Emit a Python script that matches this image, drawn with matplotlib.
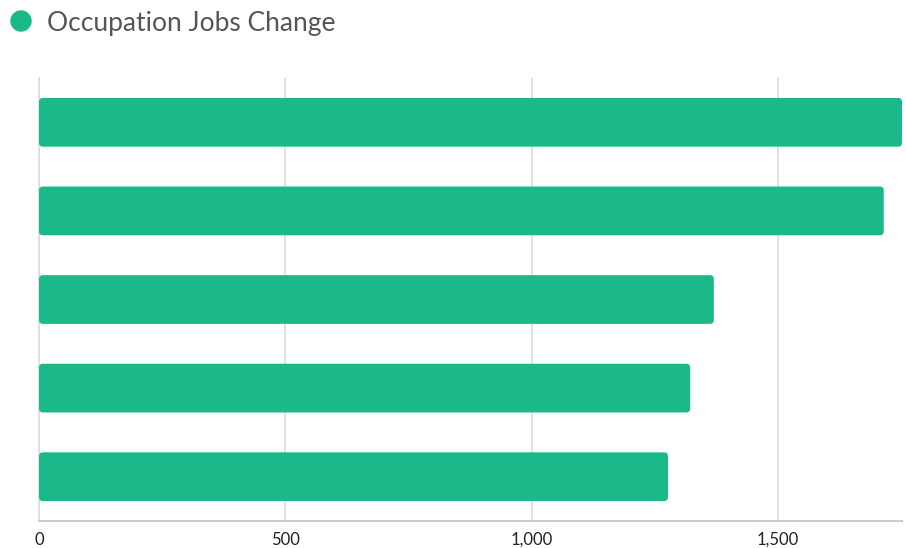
import matplotlib.pyplot as plt
from matplotlib.patches import FancyBboxPatch, Ellipse
from matplotlib.ticker import FuncFormatter

occupations = ['Occupation 1', 'Occupation 2', 'Occupation 3', 'Occupation 4', 'Occupation 5']
jobs_change = [1752, 1715, 1370, 1322, 1277]
x_ticks = [0, 500, 1000, 1500]

green = '#1bb98a'
plt.rcParams['font.family'] = ['Lato', 'DejaVu Sans']

fig = plt.figure(figsize=(9.06, 5.48), dpi=100)
ax = fig.add_axes([39 / 906, 1 - 521 / 548, (902 - 39) / 906, (521 - 78) / 548])

ypos = list(range(len(jobs_change)))
bars = ax.barh(ypos, jobs_change, height=0.55, color=green, zorder=3)

# swap plain rectangles for rounded ones of the same geometry
for b in bars:
    x, y = b.get_x(), b.get_y()
    w, h = b.get_width(), b.get_height()
    b.set_visible(False)
    ax.add_patch(FancyBboxPatch((x, y), w, h,
                                boxstyle='round,pad=0,rounding_size=8',
                                mutation_aspect=0.0056,
                                fc=green, ec='none', zorder=3))

ax.set_xlim(0, max(jobs_change))
ax.set_ylim(len(jobs_change) - 0.5, -0.5)
ax.set_xticks(x_ticks)
ax.xaxis.set_major_formatter(FuncFormatter(lambda v, p: f'{int(v):,}'))
ax.set_yticks([])
ax.grid(axis='x', color='#dddddd', linewidth=1.2, zorder=0)
ax.tick_params(axis='x', length=0, pad=8, labelsize=12, labelcolor='#222222')

for s in ['top', 'right']:
    ax.spines[s].set_visible(False)
ax.spines['left'].set_color('#dddddd')
ax.spines['left'].set_linewidth(1.2)
ax.spines['bottom'].set_color('#cccccc')
ax.spines['bottom'].set_linewidth(1.5)

# legend-style title
fig.patches.append(Ellipse((21 / 906, 1 - 21 / 548), 20 / 906, 20 / 548,
                           transform=fig.transFigure, color=green, figure=fig))
fig.text(47 / 906, 1 - 23 / 548, 'Occupation Jobs Change', fontsize=19, color='#555555',
         va='center', ha='left')

fig.savefig('out.png', dpi=100)
